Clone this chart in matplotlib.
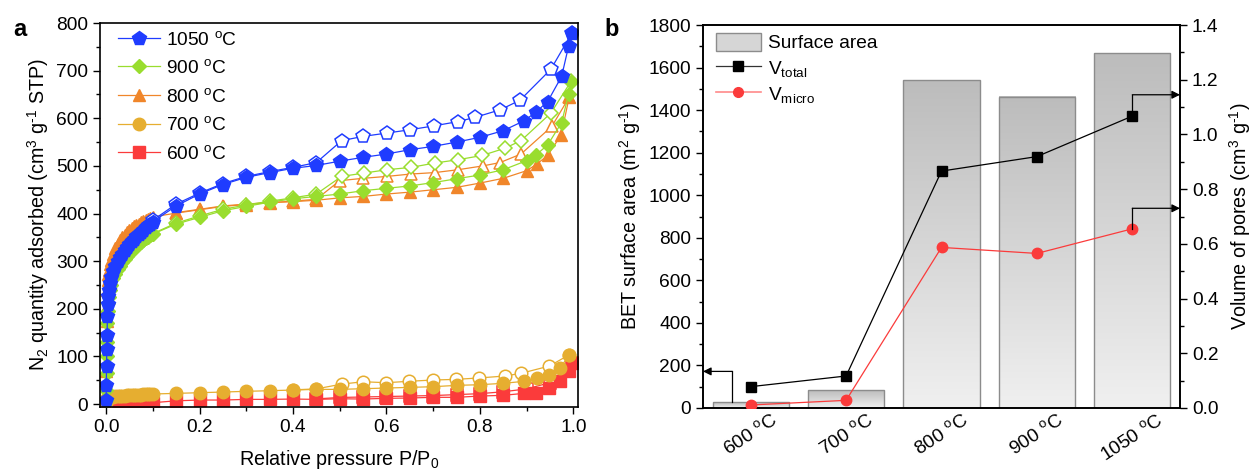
import matplotlib
matplotlib.use("Agg")
import matplotlib.pyplot as plt
import numpy as np
from matplotlib.patches import Rectangle
from matplotlib.lines import Line2D
from matplotlib.colors import LinearSegmentedColormap
import matplotlib.transforms as mtransforms

plt.rcParams['font.family'] = ['Liberation Sans', 'DejaVu Sans']
plt.rcParams['mathtext.fontset'] = 'custom'
plt.rcParams['mathtext.rm'] = 'Liberation Sans'
plt.rcParams['mathtext.it'] = 'Liberation Sans:italic'
plt.rcParams['mathtext.bf'] = 'Liberation Sans:bold'

# ---------------- Panel a data ----------------
LOW_P = [0.0002, 0.0005, 0.001, 0.0015, 0.002, 0.003, 0.004, 0.005, 0.006, 0.008,
         0.01, 0.015, 0.02, 0.025, 0.03, 0.035, 0.04, 0.045, 0.05, 0.055,
         0.06, 0.065, 0.07, 0.075, 0.08, 0.085, 0.09, 0.095, 0.1]

# 1050 C
p_ads_1050 = LOW_P + [0.15, 0.2, 0.25, 0.3, 0.35, 0.4, 0.45, 0.5, 0.55, 0.6, 0.65, 0.7,
                      0.75, 0.8, 0.85, 0.895, 0.92, 0.945, 0.975, 0.99, 0.997]
v_ads_1050 = [8, 40, 80, 115, 145, 185, 210, 228, 240, 255,
              266, 280, 291, 300, 309, 316, 323, 330, 336, 342,
              347, 352, 357, 362, 366, 371, 375, 379, 383] + \
             [416, 441, 461, 476, 486, 495, 501, 510, 518, 525, 534, 541,
              550, 560, 574, 595, 613, 635, 688, 752, 779]
p_des_1050 = [0.997, 0.952, 0.886, 0.844, 0.79, 0.753, 0.701, 0.651, 0.601, 0.55,
              0.504, 0.45, 0.4, 0.35, 0.3, 0.25, 0.2, 0.15, 0.1]
v_des_1050 = [779, 703, 638, 618, 602, 593, 584, 576, 569, 562,
              553, 507, 497, 488, 478, 463, 443, 420, 386]

# 900 C
p_ads_900 = LOW_P + [0.15, 0.2, 0.25, 0.3, 0.35, 0.4, 0.45, 0.5, 0.55, 0.6, 0.65, 0.7,
                     0.75, 0.8, 0.85, 0.9, 0.92, 0.945, 0.975, 0.99, 0.996]
v_ads_900 = [8, 30, 65, 100, 130, 170, 195, 212, 225, 240,
             250, 264, 274, 283, 291, 298, 305, 311, 317, 322,
             327, 332, 336, 340, 344, 348, 351, 354, 357] + \
            [378, 392, 406, 415, 424, 431, 436, 441, 448, 453, 458, 465,
             473, 481, 492, 511, 523, 544, 591, 651, 676]
p_des_900 = [0.996, 0.952, 0.888, 0.853, 0.805, 0.753, 0.703, 0.653, 0.601, 0.552,
             0.504, 0.45, 0.4, 0.35, 0.3, 0.25, 0.2, 0.15, 0.1]
v_des_900 = [679, 611, 553, 537, 522, 513, 506, 497, 492, 485,
             478, 441, 433, 426, 418, 409, 395, 380, 358]

# 800 C
p_ads_800 = LOW_P + [0.15, 0.2, 0.25, 0.3, 0.35, 0.4, 0.45, 0.5, 0.55, 0.6, 0.65, 0.7,
                     0.75, 0.8, 0.85, 0.9, 0.922, 0.945, 0.974, 0.991]
v_ads_800 = [20, 70, 130, 175, 205, 240, 260, 273, 282, 294,
             302, 316, 327, 336, 344, 350, 356, 361, 365, 369,
             373, 376, 379, 382, 385, 387, 389, 391, 393] + \
            [401, 408, 415, 419, 423, 425, 428, 433, 436, 441, 445, 450,
             455, 464, 474, 490, 504, 522, 565, 644]
p_des_800 = [0.991, 0.954, 0.888, 0.843, 0.806, 0.753, 0.703, 0.652, 0.601, 0.55,
             0.5, 0.45, 0.4, 0.35, 0.3, 0.25, 0.2, 0.15]
v_des_800 = [644, 583, 525, 507, 500, 492, 486, 483, 478, 474,
             469, 430, 426, 423, 420, 416, 409, 402]

# 700 C
p_ads_700 = LOW_P + [0.15, 0.2, 0.25, 0.3, 0.35, 0.4, 0.45, 0.5, 0.55, 0.6, 0.65, 0.7,
                     0.75, 0.8, 0.85, 0.895, 0.922, 0.947, 0.972, 0.99]
v_ads_700 = [2, 5, 8, 10, 11, 12.5, 13.5, 14, 14.5, 15,
             15.5, 16, 16.5, 17, 17.3, 17.6, 18, 18.3, 18.6, 19,
             19.2, 19.5, 19.8, 20, 20.3, 20.6, 20.9, 21.1, 21.3] + \
            [22.6, 24, 25.4, 26.9, 28.2, 29.6, 31, 31, 32.4, 33.8, 35.2, 36.6,
             39.4, 40.8, 43.7, 47.9, 54, 61, 75, 103]
p_des_700 = [0.99, 0.949, 0.888, 0.853, 0.799, 0.749, 0.699, 0.649, 0.6, 0.55,
             0.504, 0.45, 0.4]
v_des_700 = [103, 80, 64.7, 59, 55, 52, 50.6, 48, 45, 47, 42, 32, 30]

# 600 C
p_ads_600 = LOW_P + [0.15, 0.2, 0.25, 0.3, 0.35, 0.4, 0.45, 0.5, 0.55, 0.6, 0.65, 0.7,
                     0.75, 0.8, 0.85, 0.895, 0.92, 0.947, 0.972, 0.99, 0.997]
v_ads_600 = [0.2, 0.4, 0.6, 0.8, 0.9, 1.0, 1.1, 1.2, 1.3, 1.4,
             1.5, 1.7, 1.8, 1.9, 2.0, 2.1, 2.2, 2.3, 2.4, 2.5,
             2.5, 2.6, 2.7, 2.7, 2.8, 2.9, 2.9, 3.0, 3.0] + \
            [7, 8.6, 8.6, 10, 10, 10.7, 10, 11.3, 10.7, 12.2, 12.9, 14.3,
             14.3, 17, 18.5, 22.7, 24, 33, 49, 70, 86]
p_des_600 = [0.997, 0.95, 0.9, 0.85, 0.8, 0.75, 0.7, 0.65, 0.6, 0.55, 0.5, 0.45]
v_des_600 = [86, 45, 32, 26, 22, 20, 18, 17, 16, 15, 14, 11]

# ---------------- Panel b data ----------------
temps = ['600 $^{\\mathrm{o}}$C', '700 $^{\\mathrm{o}}$C', '800 $^{\\mathrm{o}}$C',
         '900 $^{\\mathrm{o}}$C', '1050 $^{\\mathrm{o}}$C']
surface_area = [27, 83, 1540, 1463, 1667]
v_total = [0.078, 0.117, 0.866, 0.919, 1.067]
v_micro = [0.011, 0.028, 0.587, 0.565, 0.655]

C_BLUE = '#1f3cff'
C_GREEN = '#99dd2e'
C_ORANGE = '#f0862a'
C_GOLD = '#e6ae30'
C_RED = '#fb3b3b'

fig = plt.figure(figsize=(12.52, 4.70), dpi=100)
axa = fig.add_axes([100/1252, 63/470, 478/1252, 384/470])
axb = fig.add_axes([703/1252, 62/470, 477/1252, 383/470])

FS = 13.8
LFS = 14.2
G1 = 'g$^{\\text{-}1}$'

series = [
    ('600', p_ads_600, v_ads_600, p_des_600, v_des_600, C_RED, 's', 8),
    ('700', p_ads_700, v_ads_700, p_des_700, v_des_700, C_GOLD, 'o', 9),
    ('800', p_ads_800, v_ads_800, p_des_800, v_des_800, C_ORANGE, '^', 9),
    ('900', p_ads_900, v_ads_900, p_des_900, v_des_900, C_GREEN, 'D', 7.5),
    ('1050', p_ads_1050, v_ads_1050, p_des_1050, v_des_1050, C_BLUE, 'p', 10),
]
handles = {}
for name, pa, va, pd, vd, c, m, ms in series:
    axa.plot(pd, vd, '-', color=c, lw=0.9, marker=m, ms=ms, mfc='white', mec=c, mew=1.1)
    h, = axa.plot(pa, va, '-', color=c, lw=0.9, marker=m, ms=ms, mfc=c, mec=c)
    handles[name] = h

axa.set_xlim(-0.013, 1.01)
axa.set_ylim(-6, 800)
axa.set_xticks([0.0, 0.2, 0.4, 0.6, 0.8, 1.0])
axa.set_xticks(np.arange(0.1, 1.0, 0.2), minor=True)
axa.set_yticks(np.arange(0, 801, 100))
axa.set_yticks(np.arange(50, 800, 100), minor=True)
axa.xaxis.set_major_formatter(matplotlib.ticker.FormatStrFormatter('%.1f'))
axa.tick_params(which='major', direction='out', length=5, width=1, labelsize=FS)
axa.tick_params(which='minor', direction='out', length=3, width=1)
for s in axa.spines.values():
    s.set_linewidth(1.2)
axa.set_xlabel('Relative pressure P/P$_0$', fontsize=LFS, labelpad=9)
axa.set_ylabel('N$_2$ quantity adsorbed (cm$^3$ ' + G1 + ' STP)', fontsize=LFS, labelpad=4)

leg_order = ['1050', '900', '800', '700', '600']
axa.legend([handles[k] for k in leg_order],
           [k + ' $^{\\mathrm{o}}$C' for k in leg_order],
           loc='upper left', frameon=False, fontsize=FS, handlelength=2.2,
           handletextpad=0.3, labelspacing=0.55, borderaxespad=0.3,
           bbox_to_anchor=(0.01, 1.015))

# ---------------- Panel b ----------------
x = np.arange(len(temps))
bw = 0.8
grad = np.linspace(0, 1, 256).reshape(-1, 1)
gcmap = LinearSegmentedColormap.from_list('g', ['#f0f0f0', '#bcbcbc'])
for xi, h in zip(x, surface_area):
    axb.imshow(grad, extent=[xi - bw/2, xi + bw/2, 0, h], origin='lower',
               aspect='auto', cmap=gcmap, zorder=1)
    axb.add_patch(Rectangle((xi - bw/2, 0), bw, h, fc='none', ec='#8c8c8c', lw=1.0, zorder=2))
axb.set_xlim(-0.5, 4.5)
axb.set_ylim(0, 1800)
axb.set_xticks(x)
axb.set_xticklabels(temps, rotation=33, fontsize=FS)
shift = mtransforms.ScaledTranslation(-14/100, 0, fig.dpi_scale_trans)
for lab in axb.get_xticklabels():
    lab.set_transform(lab.get_transform() + shift)
axb.set_yticks(np.arange(0, 1801, 200))
axb.set_yticks(np.arange(100, 1800, 200), minor=True)
axb.tick_params(which='major', direction='out', length=5, width=1, labelsize=FS)
axb.tick_params(axis='x', which='major', length=0, pad=2)
axb.tick_params(which='minor', direction='out', length=3, width=1)
axb.set_ylabel('BET surface area (m$^2$ ' + G1 + ')', fontsize=LFS, labelpad=4)
for s in axb.spines.values():
    s.set_linewidth(1.2)

ax2 = axb.twinx()
ax2.set_ylim(0, 1.4)
ax2.set_yticks(np.arange(0, 1.41, 0.2))
ax2.set_yticks(np.arange(0.1, 1.4, 0.2), minor=True)
ax2.yaxis.set_major_formatter(matplotlib.ticker.FormatStrFormatter('%.1f'))
ax2.tick_params(which='major', direction='out', length=5, width=1, labelsize=FS)
ax2.tick_params(which='minor', direction='out', length=3, width=1)
ax2.set_ylabel('Volume of pores (cm$^3$ ' + G1 + ')', fontsize=LFS, labelpad=6)
for s in ax2.spines.values():
    s.set_linewidth(1.2)

ht, = ax2.plot(x, v_total, '-', color='black', lw=0.9, marker='s', ms=7, zorder=5)
hm, = ax2.plot(x, v_micro, '-', color=C_RED, lw=0.9, marker='o', ms=7.5, zorder=5)

# arrows
axb.plot([-0.195, -0.195], [surface_area[0], 172], color='black', lw=0.9, zorder=6)
axb.annotate('', xy=(-0.5, 172), xytext=(-0.195, 172),
             arrowprops=dict(arrowstyle='-|>', color='black', lw=0.9, mutation_scale=12,
                             shrinkA=0, shrinkB=0), zorder=6, annotation_clip=False)
for yv, yt in [(v_total[4], 1.145), (v_micro[4], 0.73)]:
    ax2.plot([4, 4], [yv, yt], color='black', lw=0.9, zorder=6)
    ax2.annotate('', xy=(4.5, yt), xytext=(4, yt),
                 arrowprops=dict(arrowstyle='-|>', color='black', lw=0.9, mutation_scale=12,
                                 shrinkA=0, shrinkB=0), zorder=6, annotation_clip=False)

sa_patch = Rectangle((0, 0), 1, 1, fc='#d6d6d6', ec='#8c8c8c', lw=1.0)
lt = Line2D([], [], color='#333333', lw=0.9, marker='s', ms=6.5, mfc='black', mec='black')
lm = Line2D([], [], color='#ff8a8a', lw=1.2, marker='o', ms=7, mfc=C_RED, mec=C_RED)
ax2.legend([sa_patch, lt, lm], ['Surface area', 'V$_{\\mathrm{total}}$', 'V$_{\\mathrm{micro}}$'],
           loc='upper left', frameon=False, fontsize=FS, handlelength=2.3,
           handleheight=1.1, handletextpad=0.4, labelspacing=0.3,
           borderaxespad=0.3, bbox_to_anchor=(0.0, 1.015))

fig.text(20/1252, 1 - 30/470, 'a', fontsize=17, fontweight='bold', va='center', ha='center')
fig.text(612/1252, 1 - 30/470, 'b', fontsize=17, fontweight='bold', va='center', ha='center')

fig.savefig('out.png', dpi=100)
